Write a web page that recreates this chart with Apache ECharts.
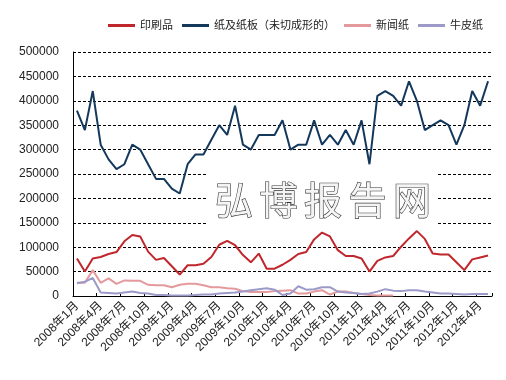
<!DOCTYPE html>
<html>
<head>
<meta charset="utf-8">
<script src="https://cdn.jsdelivr.net/npm/echarts@6/dist/echarts.min.js"></script>
<style>
html,body{margin:0;padding:0;background:#fff;}
#chart{width:506px;height:380px;}
</style>
</head>
<body>
<div id="chart"></div>
<script>
var categories = (function(){
  var out = [];
  for (var y = 2008; y <= 2012; y++) {
    for (var m = 1; m <= 12; m++) {
      if (y === 2012 && m > 5) break;
      out.push(y + '年' + m + '月');
    }
  }
  return out;
})();

var seriesNames = ['印刷品', '纸及纸板（未切成形的）', '新闻纸', '牛皮纸'];

var printed = [77000,50000,77000,80000,86000,90000,112000,125000,122000,91000,74000,78000,61000,44000,63000,63000,66000,80000,105000,113000,104000,84000,69000,87000,56000,56000,64000,74000,86000,90000,116000,130000,122000,94000,82000,82000,77000,50000,72000,79000,82000,101000,118000,133000,117000,87000,85000,85000,69000,53000,75000,79000,83000];

var paperboard = [380000,340000,420000,310000,280000,260000,270000,310000,300000,270000,240000,240000,220000,210000,270000,290000,290000,320000,350000,330000,390000,310000,300000,330000,330000,330000,360000,300000,310000,310000,360000,310000,330000,310000,340000,310000,360000,270000,410000,420000,410000,390000,440000,400000,340000,350000,360000,350000,310000,350000,420000,390000,440000];

var newsprint = [27000,27000,53000,27000,36000,25000,32000,31000,31000,23000,22000,22000,18000,23000,25000,25000,22000,18000,18000,16000,15000,10000,8000,8000,8000,10000,11000,12000,5000,5000,9000,12000,3000,9000,9000,6000,4000,2000,1000,1000,1000,null,null,null,null,null,null,null,null,null,null,null,null];

var kraft = [26000,29000,37000,7000,6000,5000,7000,9000,6000,5000,2000,2000,1000,1000,1000,2000,3000,3000,5000,6000,7000,9000,12000,14000,16000,13000,2000,5000,20000,13000,14000,18000,18000,9000,7000,6000,4000,5000,9000,14000,11000,10000,12000,12000,9000,7000,5000,5000,4000,3000,4000,4000,4000];

var yTicks = {min: 0, max: 500000, interval: 50000};
var colors = ['#C0272D', '#14385C', '#E49A9C', '#9C9AC8'];
var watermark = ['弘', '博', '报', '告', '网'];

var FONT = '"Liberation Sans", Arial, "Noto Sans CJK SC", sans-serif';

var chart = echarts.init(document.getElementById('chart'), null, {renderer: 'canvas'});

var dataSets = [printed, paperboard, newsprint, kraft];
var series = dataSets.map(function(d, i){
  return {
    name: seriesNames[i],
    type: 'line',
    data: d,
    symbol: 'none',
    smooth: false,
    connectNulls: false,
    lineStyle: {width: 2, color: colors[i]},
    itemStyle: {color: colors[i]},
    z: 3 + (i === 1 ? 1 : 0),
    animation: false
  };
});

var graphics = [{
  type: 'rect',
  shape: {x: 208, y: 170, width: 230, height: 58},
  style: {fill: '#fff'},
  z: 1
}];
watermark.forEach(function(ch, i){
  graphics.push({
    type: 'text',
    x: 234 + i * 44.5,
    y: 200,
    z: 1,
    style: {
      text: ch,
      font: '38px "Noto Sans CJK SC"',
      fill: '#f4f4f4',
      stroke: '#333',
      lineWidth: 1.2,
      align: 'center',
      verticalAlign: 'middle'
    }
  });
});

chart.setOption({
  animation: false,
  backgroundColor: '#fff',
  color: colors,
  textStyle: {fontFamily: FONT},
  legend: {
    left: 103,
    top: 15,
    icon: 'rect',
    itemWidth: 27,
    itemHeight: 3,
    itemGap: 9,
    textStyle: {fontSize: 11, color: '#222', fontFamily: FONT},
    data: seriesNames
  },
  grid: {left: 73, right: 14, top: 52, bottom: 84, containLabel: false},
  xAxis: {
    type: 'category',
    data: categories,
    boundaryGap: true,
    axisLine: {lineStyle: {color: '#000', width: 1}},
    axisTick: {show: true, inside: true, length: 3, interval: 2, lineStyle: {color: '#000'}},
    axisLabel: {interval: 2, rotate: 45, fontSize: 12, color: '#222', margin: 8, fontFamily: FONT},
    splitLine: {show: false}
  },
  yAxis: {
    type: 'value',
    min: yTicks.min,
    max: yTicks.max,
    interval: yTicks.interval,
    axisLine: {show: true, lineStyle: {color: '#000', width: 1}},
    axisTick: {show: false},
    axisLabel: {fontSize: 12, color: '#222', margin: 14, fontFamily: FONT,
      formatter: function(v){ return String(v); }},
    splitLine: {show: true, lineStyle: {color: '#000', width: 1, type: [3, 2]}}
  },
  graphic: graphics,
  series: series
});
</script>
</body>
</html>
